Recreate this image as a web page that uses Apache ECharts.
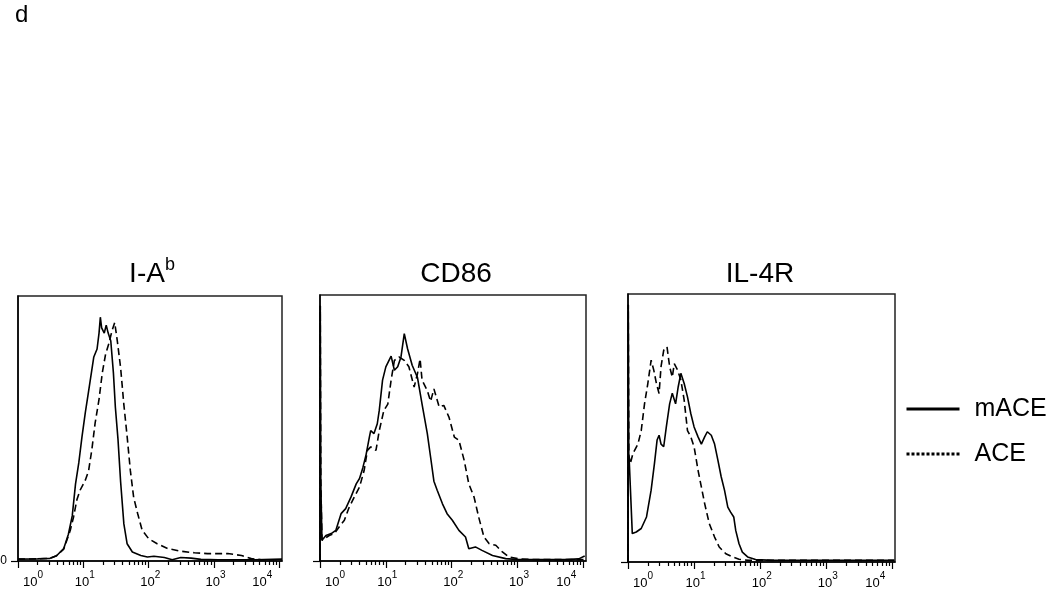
<!DOCTYPE html>
<html>
<head>
<meta charset="utf-8">
<script src="https://cdn.jsdelivr.net/npm/echarts@6/dist/echarts.min.js"></script>
<style>
  html, body { margin: 0; padding: 0; background: #fff; }
  #chart { width: 1050px; height: 589px; }
</style>
</head>
<body>
<div id="chart"></div>
<script>
// x = log10(fluorescence), y = % of max count
const majorTicks = [0, 1, 2, 3, 4]
const xMax = 4.04

const iaMace = [[0,0.7],[0.3,0.8],[0.49,1],[0.59,2],[0.7,4.7],[0.77,10],[0.83,17],[0.88,29],[0.93,37],[0.98,47],[1.03,56],[1.08,64],[1.16,77],[1.21,80],[1.24,86],[1.26,92],[1.28,88],[1.32,86],[1.35,89],[1.38,86],[1.42,83],[1.46,71],[1.49,58],[1.53,46],[1.57,30],[1.62,14],[1.67,6.5],[1.75,3.4],[1.88,2.1],[1.98,1.5],[2.08,1.8],[2.24,1.3],[2.36,0.5],[2.49,1.3],[2.65,1.1],[2.8,0.6],[3.06,0.5],[3.3,0.5],[3.62,0.5],[4.04,0.7]]
const iaAce = [[0,0.7],[0.3,0.8],[0.49,1],[0.59,2],[0.7,4.5],[0.75,8],[0.8,11.6],[0.85,16.6],[0.9,23],[0.95,26.7],[1.03,30.5],[1.08,34],[1.13,42],[1.18,52],[1.24,61],[1.29,71],[1.34,78],[1.39,82],[1.44,87],[1.48,90],[1.52,83],[1.57,73],[1.62,59],[1.67,47],[1.72,34],[1.77,24],[1.83,18],[1.9,11.6],[2.0,8.4],[2.13,6.5],[2.29,4.7],[2.49,3.7],[2.7,3.1],[2.9,2.8],[3.21,2.8],[3.42,2.1],[3.57,0.9],[3.72,0.5],[4.04,0.5]]

const cd86Mace = [[0,0],[0.004,96],[0.012,30],[0.03,7.8],[0.09,9.6],[0.17,10.3],[0.24,11.5],[0.32,17.8],[0.39,19.7],[0.47,24],[0.55,29],[0.6,31],[0.65,35],[0.7,40],[0.75,46.6],[0.77,49],[0.82,47.9],[0.87,51.6],[0.9,56.6],[0.95,68],[1.0,73],[1.08,77],[1.13,71.7],[1.18,73],[1.23,76.7],[1.28,85.5],[1.33,79.8],[1.4,73.6],[1.48,69],[1.55,59],[1.63,47.9],[1.68,39],[1.73,30],[1.78,26.6],[1.86,21.5],[1.93,17.8],[2.01,15.3],[2.11,11.5],[2.21,9],[2.26,4.6],[2.36,5.3],[2.46,4],[2.62,2.1],[2.82,0.9],[3.02,0.5],[3.32,0.5],[3.73,0.5],[3.93,0.8],[4.02,1.9]]
const cd86Ace = [[0,0],[0.004,96],[0.012,30],[0.03,7.8],[0.14,9.6],[0.22,10.3],[0.29,12.8],[0.37,15.3],[0.44,20],[0.52,24],[0.6,27.8],[0.67,34],[0.72,41.6],[0.77,42.9],[0.85,41.6],[0.9,49],[0.97,56.6],[1.03,59],[1.08,68],[1.13,75.4],[1.2,76.7],[1.28,75.4],[1.35,73],[1.43,65.4],[1.48,70.4],[1.52,76],[1.55,68],[1.63,64],[1.68,60],[1.73,64.7],[1.81,57.9],[1.88,58.5],[1.96,54],[2.04,46.6],[2.11,45.4],[2.19,37.8],[2.26,29],[2.34,24],[2.41,16.5],[2.49,9],[2.57,6.5],[2.67,5.9],[2.77,3.4],[2.87,1.5],[3.02,0.8],[3.32,0.5],[4.02,0.5]]

const il4rMace = [[0,0],[0.004,96],[0.012,40],[0.02,37],[0.065,10.6],[0.125,11.2],[0.2,12.5],[0.28,16.8],[0.35,26.8],[0.4,36.7],[0.44,45.5],[0.47,47.3],[0.5,44],[0.54,43],[0.58,50.4],[0.63,59],[0.67,63],[0.72,59],[0.76,65.4],[0.8,70.4],[0.85,66.6],[0.9,61.6],[0.95,55.4],[1.0,50.4],[1.06,46.7],[1.11,44],[1.16,46.7],[1.2,48.6],[1.26,47.3],[1.31,44],[1.36,38],[1.41,31.8],[1.46,26.8],[1.51,20.5],[1.55,18.7],[1.6,16.8],[1.63,11.8],[1.68,6.8],[1.73,3.7],[1.81,1.9],[1.93,0.9],[2.19,0.6],[4.03,0.6]]
const il4rAce = [[0,0],[0.004,96],[0.012,40],[0.035,36.7],[0.075,40.5],[0.15,44],[0.2,49],[0.25,59],[0.3,66.6],[0.35,75.3],[0.39,71.6],[0.43,66.6],[0.47,62.9],[0.5,72.9],[0.54,79],[0.59,80.3],[0.63,72.9],[0.67,69],[0.7,74],[0.75,71.6],[0.8,67.9],[0.85,60.4],[0.9,49],[0.95,46.7],[1.0,43],[1.06,34.2],[1.11,28],[1.16,21.8],[1.23,14.3],[1.31,9.3],[1.38,5.6],[1.48,3.1],[1.58,1.9],[1.68,1],[1.83,0.6],[4.03,0.6]]

// minor log ticks 2..9 inside each decade
const minorTicks = []
for (let d = 0; d < 5; d++) {
  for (let k = 2; k < 10; k++) {
    const v = d + Math.log10(k)
    if (v <= xMax) minorTicks.push(v)
  }
}

const font = 'Liberation Sans, Arial, sans-serif'
const grids = [
  { left: 18, top: 296, width: 264, height: 265 },
  { left: 320, top: 295, width: 266, height: 266 },
  { left: 628, top: 294, width: 267, height: 268 },
]
const titles = ['{a|I-A}{s|b}', '{a|CD86}', '{a|IL-4R}']
const titleX = [152, 456, 760]
const panelData = [[iaMace, iaAce], [cd86Mace, cd86Ace], [il4rMace, il4rAce]]

// labels sit a little right of their tick, like the original cytometry export
function decadeLabel(v) {
  if (v === 0) return '{w5| }{b|10}{s|0}'
  if (v === 4) return '{b|10}{s|4}{w7| }'
  return '{w3| }{b|10}{s|' + v + '}'
}

const chart = echarts.init(document.getElementById('chart'))

const xAxis = []
const yAxis = []
const series = []
grids.forEach((g, i) => {
  // major ticks + labels
  xAxis.push({
    gridIndex: i, type: 'value', position: 'bottom', min: 0, max: xMax,
    axisLine: { show: true, lineStyle: { color: '#000', width: 1.5 } },
    axisTick: { show: true, customValues: majorTicks, length: 7, lineStyle: { color: '#000', width: 1.2 } },
    axisLabel: {
      customValues: majorTicks, margin: 9, alignMinLabel: 'left', alignMaxLabel: 'right',
      formatter: decadeLabel,
      rich: {
        b: { fontFamily: font, fontSize: 13, lineHeight: 19, verticalAlign: 'bottom', color: '#000' },
        s: { fontFamily: font, fontSize: 10, lineHeight: 19, verticalAlign: 'top', color: '#000' },
        w3: { width: 3, fontSize: 10, lineHeight: 19 },
        w5: { width: 5, fontSize: 10, lineHeight: 19 },
        w7: { width: 7, fontSize: 10, lineHeight: 19 },
      },
    },
    splitLine: { show: false },
  })
})
grids.forEach((g, i) => {
  // minor ticks only
  xAxis.push({
    gridIndex: i, type: 'value', position: 'bottom', min: 0, max: xMax,
    axisLine: { show: false },
    axisTick: { show: true, customValues: minorTicks, length: 4, lineStyle: { color: '#000', width: 1.2 } },
    axisLabel: { show: false },
    splitLine: { show: false },
  })
  yAxis.push({
    gridIndex: i, type: 'value', min: 0, max: 100,
    axisLine: { show: true, lineStyle: { color: '#000', width: 1.5 } },
    axisTick: { show: true, customValues: [0], length: 7, lineStyle: { color: '#000', width: 1.2 } },
    axisLabel: { show: i === 0, customValues: [0], margin: 11, fontFamily: font, fontSize: 12, color: '#000' },
    splitLine: { show: false },
  })
  const [m, a] = panelData[i]
  series.push({
    name: 'mACE', type: 'line', xAxisIndex: i, yAxisIndex: i, data: m,
    symbol: 'none', lineStyle: { color: '#000', width: 1.6 }, silent: true,
  })
  series.push({
    name: 'ACE', type: 'line', xAxisIndex: i, yAxisIndex: i, data: a,
    symbol: 'none', lineStyle: { color: '#000', width: 1.6, type: [7, 4] }, silent: true,
  })
})

const graphic = [{
  type: 'text', left: 15, top: 3,
  style: { text: 'd', fontFamily: font, fontSize: 24, fill: '#000' },
}]
grids.forEach((g, i) => {
  graphic.push({
    type: 'text', x: titleX[i], y: 272,
    style: {
      text: titles[i], align: 'center', verticalAlign: 'middle',
      rich: {
        a: { fontFamily: font, fontSize: 28, lineHeight: 32, verticalAlign: 'bottom', fill: '#000' },
        s: { fontFamily: font, fontSize: 18, lineHeight: 32, verticalAlign: 'top', fill: '#000' },
      },
    },
  })
})

chart.setOption({
  animation: false,
  backgroundColor: '#fff',
  grid: grids.map(g => Object.assign({ show: true, borderColor: '#222', borderWidth: 1.5, containLabel: false, outerBoundsMode: 'none' }, g)),
  xAxis: xAxis,
  yAxis: yAxis,
  series: series,
  legend: {
    orient: 'vertical', left: 905, top: 396, padding: 0, itemWidth: 53, itemHeight: 14, itemGap: 19,
    selectedMode: false,
    textStyle: { fontFamily: font, fontSize: 25, lineHeight: 26, color: '#000', padding: [0, 0, 0, 10] },
    data: [
      { name: 'mACE', itemStyle: { opacity: 0 }, lineStyle: { width: 3, color: '#000' } },
      { name: 'ACE', itemStyle: { opacity: 0 }, lineStyle: { width: 3, color: '#000', type: [3, 2] } },
    ],
  },
  graphic: graphic,
})
</script>
</body>
</html>
